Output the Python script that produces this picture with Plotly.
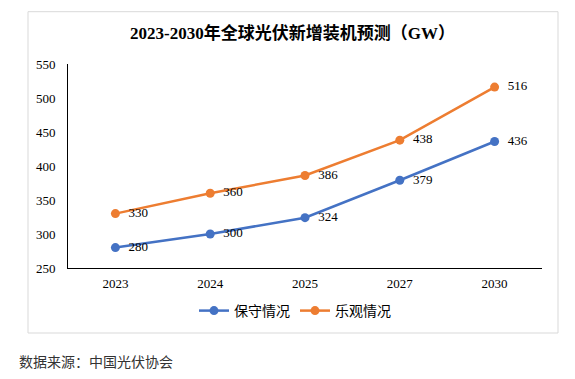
import plotly.graph_objects as go

years = ["2023", "2024", "2025", "2027", "2030"]
conservative = [280, 300, 324, 379, 436]
optimistic = [330, 360, 386, 438, 516]
series_names = ["保守情况", "乐观情况"]
title_text = "2023-2030年全球光伏新增装机预测（GW）"
source_text = "数据来源：中国光伏协会"

serif = "Times New Roman, Liberation Serif, Noto Sans CJK SC, serif"

OFF = 8  # default page body margin
W, H = 575 - OFF, 379 - OFF
L, R, T, B = 68 - OFF, 542 - OFF, 64 - OFF, 268 - OFF
pw, ph = R - L, B - T

def px(x):
    return (x - OFF - L) / pw

def py(y):
    return (B - (y - OFF)) / ph

fig = go.Figure()
for name, vals, col in [(series_names[0], conservative, "#4472C4"),
                        (series_names[1], optimistic, "#ED7D31")]:
    fig.add_trace(go.Scatter(
        x=years, y=vals, name=name, mode="lines+markers+text",
        line=dict(color=col, width=2.5),
        marker=dict(color=col, size=9),
        text=["  " + str(v) for v in vals], textposition="middle right",
        textfont=dict(family=serif, size=13, color="#000000"),
        cliponaxis=False,
    ))

fig.update_layout(
    width=W, height=H,
    margin=dict(l=L, r=W - R, t=T, b=H - B),
    paper_bgcolor="white", plot_bgcolor="white",
    showlegend=True,
    legend=dict(orientation="h", x=px(295), y=py(311), xanchor="center", yanchor="middle",
                font=dict(family=serif, size=14, color="#000000"),
                bgcolor="rgba(0,0,0,0)", itemwidth=30, tracegroupgap=0),
    xaxis=dict(type="category", range=[-0.5, 4.5], showline=True, linecolor="#000000",
               linewidth=1, showgrid=False, zeroline=False, ticks="", ticklabelstandoff=3,
               tickfont=dict(family=serif, size=13, color="#000000"), fixedrange=True),
    yaxis=dict(range=[250, 550], dtick=50, showline=True, linecolor="#000000",
               linewidth=1, showgrid=False, zeroline=False, ticks="", ticklabelstandoff=9,
               tickfont=dict(family=serif, size=13, color="#000000"), fixedrange=True),
    shapes=[dict(type="rect", xref="paper", yref="paper",
                 x0=px(28), x1=px(558), y0=py(333), y1=py(11.7),
                 line=dict(color="#D9D9D9", width=1), fillcolor="rgba(0,0,0,0)", layer="below")],
    annotations=[
        dict(text="<b>" + title_text + "</b>", xref="paper", yref="paper",
             x=px(292), y=py(33), xanchor="center", yanchor="middle", showarrow=False,
             font=dict(family=serif, size=17, color="#000000")),
        dict(text=source_text, xref="paper", yref="paper",
             x=px(17), y=py(361), xanchor="left", yanchor="middle", showarrow=False,
             font=dict(family="Noto Sans CJK SC, sans-serif", size=14, color="#333333")),
    ],
)

fig.write_html("out.html")
